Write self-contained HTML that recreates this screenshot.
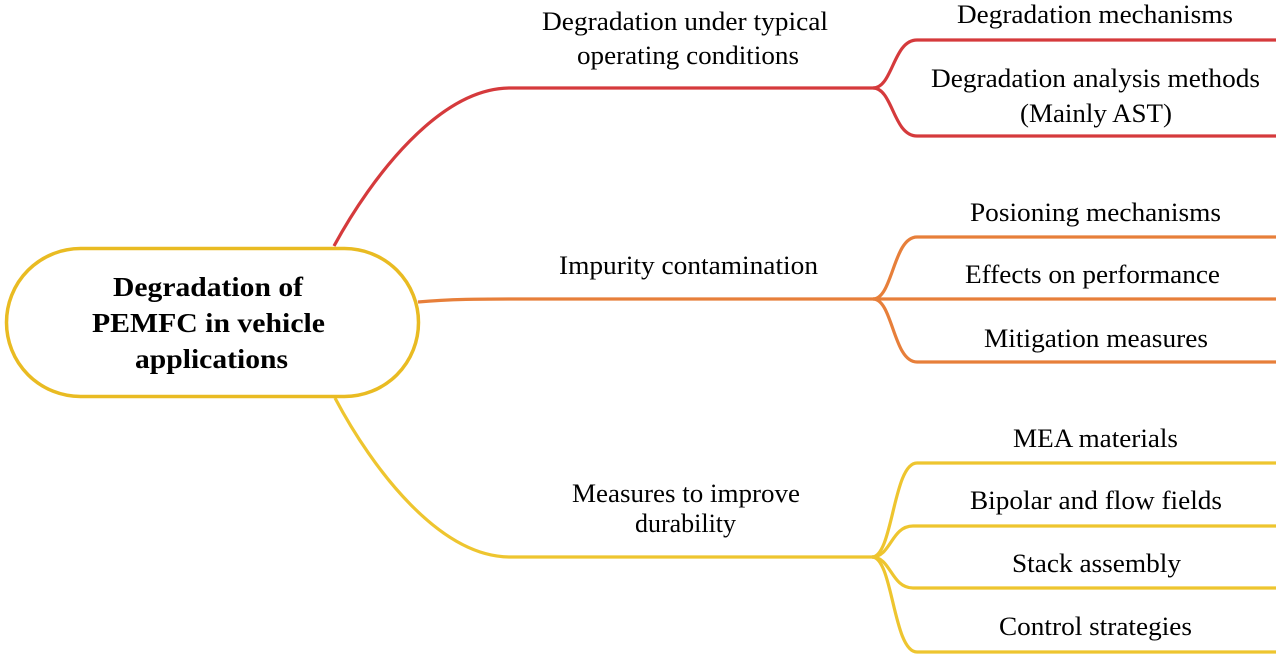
<!DOCTYPE html>
<html>
<head>
<meta charset="utf-8">
<style>
  html,body{margin:0;padding:0;background:#fff;}
  svg{display:block;}
  text{font-family:"Liberation Serif","Times New Roman",serif;fill:#000;}
  .n{font-size:26.5px;}
  .b{font-size:27px;font-weight:bold;}
</style>
</head>
<body>
<svg width="1279" height="659" viewBox="0 0 1279 659" xmlns="http://www.w3.org/2000/svg">
  <g fill="none" stroke-width="3.2" stroke-linecap="butt">
    <!-- red branch -->
    <path d="M334,246 C372,176 440,88 510,88 L873,88" stroke="#d53a3c"/>
    <path d="M873,88 C893,88 893,40 917,40 L1276,40" stroke="#d53a3c"/>
    <path d="M873,88 C893,88 893,136 917,136 L1276,136" stroke="#d53a3c"/>
    <!-- orange branch -->
    <path d="M418,302 C450,299 480,299 520,299 L1276,299" stroke="#e77f3a"/>
    <path d="M873,299 C893,299 893,237 917,237 L1276,237" stroke="#e77f3a"/>
    <path d="M873,299 C893,299 893,362 917,362 L1276,362" stroke="#e77f3a"/>
    <!-- yellow branch -->
    <path d="M335,398 C373,470 440,557 510,557 L872,557" stroke="#eec52f"/>
    <path d="M872,557 C893,557 893,463 917,463 L1276,463" stroke="#eec52f"/>
    <path d="M872,557 C891,557 891,526 913,526 L1276,526" stroke="#eec52f"/>
    <path d="M872,557 C891,557 891,588 913,588 L1276,588" stroke="#eec52f"/>
    <path d="M872,557 C893,557 893,652 917,652 L1276,652" stroke="#eec52f"/>
  </g>
  <!-- central node -->
  <rect x="6.5" y="248.5" width="412" height="148" rx="74" ry="74" fill="#fff" stroke="#e9bb22" stroke-width="3.5"/>
  <text class="b" x="113" y="296" textLength="190" lengthAdjust="spacingAndGlyphs">Degradation of</text>
  <text class="b" x="92" y="332" textLength="233" lengthAdjust="spacingAndGlyphs">PEMFC in vehicle</text>
  <text class="b" x="135" y="368" textLength="153" lengthAdjust="spacingAndGlyphs">applications</text>

  <!-- level 1 labels -->
  <text class="n" x="542" y="30" textLength="286" lengthAdjust="spacingAndGlyphs">Degradation under typical</text>
  <text class="n" x="577" y="64" textLength="222" lengthAdjust="spacingAndGlyphs">operating conditions</text>
  <text class="n" x="559" y="274" textLength="259" lengthAdjust="spacingAndGlyphs">Impurity contamination</text>
  <text class="n" x="572" y="502" textLength="228" lengthAdjust="spacingAndGlyphs">Measures to improve</text>
  <text class="n" x="635" y="532" textLength="101" lengthAdjust="spacingAndGlyphs">durability</text>

  <!-- level 2 labels -->
  <text class="n" x="957" y="23" textLength="276" lengthAdjust="spacingAndGlyphs">Degradation mechanisms</text>
  <text class="n" x="931" y="87" textLength="329" lengthAdjust="spacingAndGlyphs">Degradation analysis methods</text>
  <text class="n" x="1020" y="122" textLength="152" lengthAdjust="spacingAndGlyphs">(Mainly AST)</text>

  <text class="n" x="970" y="221" textLength="251" lengthAdjust="spacingAndGlyphs">Posioning mechanisms</text>
  <text class="n" x="965" y="283" textLength="255" lengthAdjust="spacingAndGlyphs">Effects on performance</text>
  <text class="n" x="984" y="347" textLength="224" lengthAdjust="spacingAndGlyphs">Mitigation measures</text>

  <text class="n" x="1013" y="447" textLength="165" lengthAdjust="spacingAndGlyphs">MEA materials</text>
  <text class="n" x="970" y="509" textLength="252" lengthAdjust="spacingAndGlyphs">Bipolar and flow fields</text>
  <text class="n" x="1012" y="572" textLength="169" lengthAdjust="spacingAndGlyphs">Stack assembly</text>
  <text class="n" x="999" y="635" textLength="193" lengthAdjust="spacingAndGlyphs">Control strategies</text>
</svg>
</body>
</html>
